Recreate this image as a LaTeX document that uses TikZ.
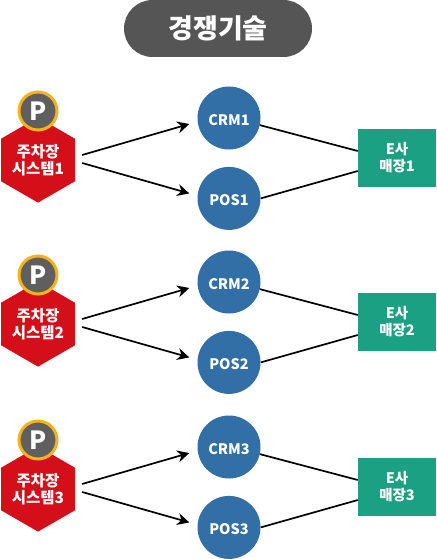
\documentclass[tikz,border=0pt]{standalone}
\usepackage{fontspec}
\setmainfont{Noto Sans CJK KR}
\usepackage{xcolor}
\usetikzlibrary{shapes.geometric, arrows.meta, positioning, calc}

\definecolor{pillgray}{HTML}{555555}
\definecolor{pgray}{HTML}{5F5F5F}
\definecolor{pring}{HTML}{F5B21A}
\definecolor{hexred}{HTML}{D50F1A}
\definecolor{sysblue}{HTML}{326FA6}
\definecolor{shopgreen}{HTML}{1CA083}

\begin{document}
\begin{tikzpicture}[
  x=1pt, y=1pt,
  node distance = 18pt and 18pt,
  titlebox/.style = {
    rectangle, rounded corners=28.5pt, fill=pillgray, text=white,
    minimum width=188pt, minimum height=57pt, inner sep=0pt,
    font=\fontsize{27}{30}\selectfont\bfseries
  },
  hexbox/.style = {
    regular polygon, regular polygon sides=6, regular polygon rotate=30,
    fill=hexred, text=white, minimum size=84pt, inner sep=0pt, align=center,
    font=\fontsize{15.5}{17.5}\selectfont\bfseries
  },
  parkbox/.style = {
    circle, draw=pring, line width=3pt, fill=pgray, text=white,
    minimum size=38pt, inner sep=0pt,
    font=\fontsize{25}{25}\selectfont\bfseries
  },
  sysbox/.style = {
    circle, fill=sysblue, text=white, minimum size=63pt, inner sep=0pt,
    text height=14.5pt, text depth=0pt,
    font=\fontsize{14.5}{17}\selectfont\bfseries
  },
  shopbox/.style = {
    rectangle, fill=shopgreen, text=white, align=center,
    minimum width=78pt, minimum height=58pt, inner sep=0pt,
    font=\fontsize{14.5}{17}\selectfont\bfseries
  },
  arr/.style  = {-{Stealth[length=12pt,width=12pt]}, line width=1.7pt, black},
  conn/.style = {line width=1.7pt, black}
]
\useasboundingbox (0,0) rectangle (436,-559);

\node[titlebox] (title) at (218,-28.5) {경쟁기술};

%% ---- Group 1 ----
\node[hexbox] (hex1) at (38,-160) {주차장\\시스템1};
\node[parkbox] (park1) at (38,-111) {P};
\node[sysbox] (crm1) at (229,-118) {CRM1};
\node[sysbox, below=17pt of crm1] (pos1) {POS1};
\node[shopbox] (shop1) at (397,-158) {E사\\매장1};

\draw[arr] ($(hex1.east)+(7,5)$) -- ($(crm1.west)+(-8,-6)$);
\draw[arr] ($(hex1.east)+(7,-3)$) -- ($(pos1.west)+(-8,5)$);
\draw[conn] (crm1.-13) -- ($(shop1.west)+(0,7)$);
\draw[conn] (pos1.0) -- ($(shop1.west)+(0,-13)$);

%% ---- Group 2 ----
\node[hexbox] (hex2) at (38,-324) {주차장\\시스템2};
\node[parkbox] (park2) at (38,-275) {P};
\node[sysbox] (crm2) at (229,-282) {CRM2};
\node[sysbox, below=17pt of crm2] (pos2) {POS2};
\node[shopbox] (shop2) at (397,-322) {E사\\매장2};

\draw[arr] ($(hex2.east)+(7,5)$) -- ($(crm2.west)+(-8,-6)$);
\draw[arr] ($(hex2.east)+(7,-3)$) -- ($(pos2.west)+(-8,5)$);
\draw[conn] (crm2.-13) -- ($(shop2.west)+(0,7)$);
\draw[conn] (pos2.0) -- ($(shop2.west)+(0,-13)$);

%% ---- Group 3 ----
\node[hexbox] (hex3) at (38,-489) {주차장\\시스템3};
\node[parkbox] (park3) at (38,-440) {P};
\node[sysbox] (crm3) at (229,-447) {CRM3};
\node[sysbox, below=17pt of crm3] (pos3) {POS3};
\node[shopbox] (shop3) at (397,-487) {E사\\매장3};

\draw[arr] ($(hex3.east)+(7,5)$) -- ($(crm3.west)+(-8,-6)$);
\draw[arr] ($(hex3.east)+(7,-3)$) -- ($(pos3.west)+(-8,5)$);
\draw[conn] (crm3.-13) -- ($(shop3.west)+(0,7)$);
\draw[conn] (pos3.0) -- ($(shop3.west)+(0,-13)$);

\end{tikzpicture}
\end{document}
